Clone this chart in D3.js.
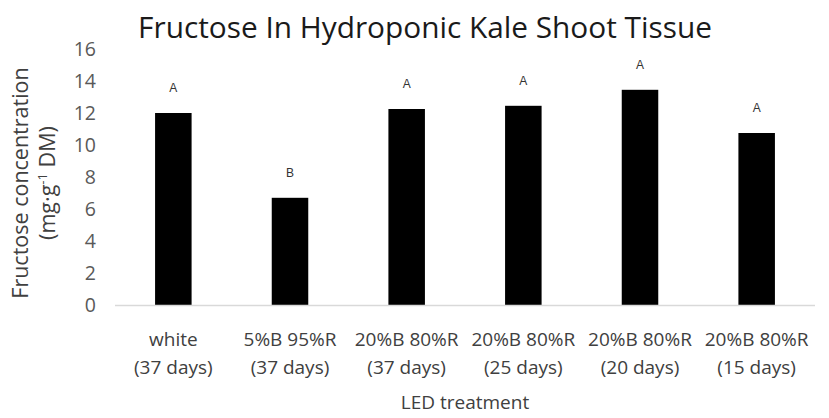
<!DOCTYPE html>
<html lang="en">
<head>
  <meta charset="utf-8">
  <title>Fructose In Hydroponic Kale Shoot Tissue</title>
  <style>
    html, body { margin:0; padding:0; background:#fff; overflow:hidden; }
    svg { display:block; font-family:"Open Sans", sans-serif; }
  </style>
</head>
<body>
  <svg id="chart" width="829" height="418"></svg>
  <script src="https://d3js.org/d3.v7.min.js"></script>
  <script>
    // data
    const treatments = ["white", "5%B 95%R", "20%B 80%R", "20%B 80%R", "20%B 80%R", "20%B 80%R"];
    const durations  = ["(37 days)", "(37 days)", "(37 days)", "(25 days)", "(20 days)", "(15 days)"];
    const fructose   = [12.0, 6.7, 12.25, 12.45, 13.45, 10.75];
    const letters    = ["A", "B", "A", "A", "A", "A"];
    const yTicks     = [0, 2, 4, 6, 8, 10, 12, 14, 16];

    const svg = d3.select("#chart");
    const plot = { left:115, right:815, top:49, bottom:305 };

    const x = d3.scaleBand()
      .domain(d3.range(treatments.length))
      .range([plot.left, plot.right])
      .paddingInner(0.687)
      .paddingOuter(0.3435);

    const y = d3.scaleLinear().domain([0, 16]).range([plot.bottom, plot.top]);

    // title
    svg.append("text")
      .attr("x", 425).attr("y", 38)
      .attr("text-anchor", "middle")
      .attr("font-size", 29.8)
      .attr("fill", "#1a1a1a")
      .text("Fructose In Hydroponic Kale Shoot Tissue");

    // y axis labels (no line, no ticks)
    const yAxis = d3.axisLeft(y).tickValues(yTicks).tickSize(0).tickPadding(0);
    const gy = svg.append("g").attr("transform", `translate(${96},0)`).call(yAxis);
    gy.select(".domain").remove();
    gy.selectAll("text")
      .attr("font-size", 19.5)
      .attr("font-family", "Open Sans, sans-serif")
      .attr("fill", "#595959");

    // bars
    svg.append("g").selectAll("rect")
      .data(fructose)
      .join("rect")
        .attr("x", (d, i) => x(i))
        .attr("y", d => y(d))
        .attr("width", x.bandwidth())
        .attr("height", d => y(0) - y(d))
        .attr("fill", "#000");

    // significance letters
    svg.append("g").selectAll("text")
      .data(fructose)
      .join("text")
        .attr("x", (d, i) => x(i) + x.bandwidth() / 2)
        .attr("y", d => y(d) - 21)
        .attr("text-anchor", "middle")
        .attr("font-family", "Liberation Sans, Arial, sans-serif")
        .attr("font-size", 12)
        .attr("fill", "#333")
        .text((d, i) => letters[i]);

    // baseline
    svg.append("line")
      .attr("x1", plot.left).attr("x2", plot.right)
      .attr("y1", y(0) + 0.5).attr("y2", y(0) + 0.5)
      .attr("stroke", "#d9d9d9").attr("stroke-width", 1.5);

    // category labels
    const cat = svg.append("g").selectAll("text")
      .data(treatments)
      .join("text")
        .attr("text-anchor", "middle")
        .attr("font-size", 19)
        .attr("fill", "#404040");
    cat.append("tspan")
      .attr("x", (d, i) => x(i) + x.bandwidth() / 2)
      .attr("y", 345.5)
      .text(d => d);
    cat.append("tspan")
      .attr("x", (d, i) => x(i) + x.bandwidth() / 2)
      .attr("y", 373.5)
      .text((d, i) => durations[i]);

    // x axis title
    svg.append("text")
      .attr("x", (plot.left + plot.right) / 2).attr("y", 408.5)
      .attr("text-anchor", "middle")
      .attr("font-size", 19)
      .attr("fill", "#404040")
      .text("LED treatment");

    // y axis title, two lines
    const yt = svg.append("text")
      .attr("transform", "translate(0,183) rotate(-90)")
      .attr("text-anchor", "middle")
      .attr("font-size", 21.5)
      .attr("fill", "#404040");
    yt.append("tspan").attr("x", 0).attr("y", 28).text("Fructose concentration");
    const l2 = yt.append("tspan").attr("x", 0).attr("y", 55);
    l2.append("tspan").text("(mg\u00B7g");
    l2.append("tspan").attr("dy", -8).attr("font-size", 13).text("-1");
    l2.append("tspan").attr("dy", 8).text(" DM)");
  </script>
</body>
</html>
